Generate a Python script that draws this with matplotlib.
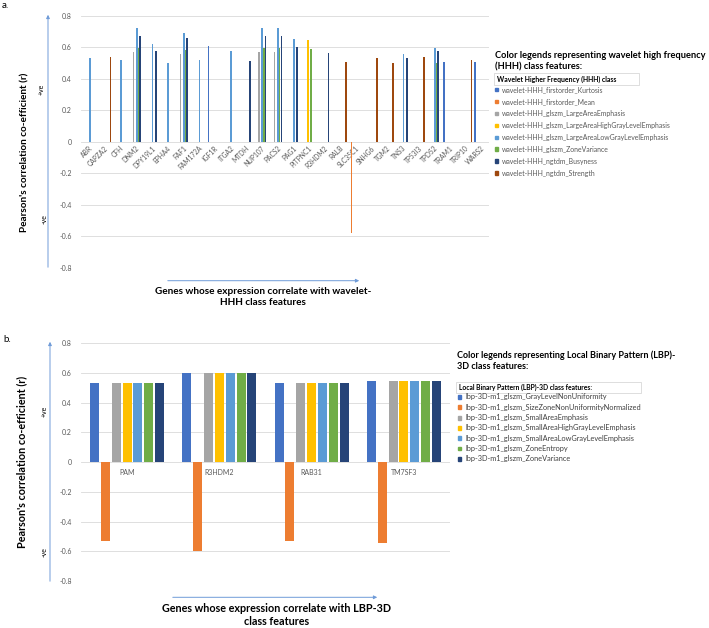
import matplotlib
matplotlib.use("Agg")
import matplotlib.pyplot as plt
import numpy as np
from matplotlib.patches import Patch, Rectangle, FancyArrowPatch

plt.rcParams['font.family'] = ['Lato', 'DejaVu Sans']

W, H = 709, 628
nan = np.nan

# ---------------- panel a data ----------------
genes_a = ["ABR", "CAPZA2", "CFH", "DNM2", "DPY19L1", "EPHA4", "FAF1", "FAM172A",
           "IGF1R", "ITGA2", "MTDH", "NUP107", "PACS2", "PAG1", "PITPNC1", "R3HDM2",
           "RALB", "SLC35C1", "SNHG6", "TGM2", "TNS3", "TP53I3", "TPD52", "TRAM1",
           "TRIP10", "WARS2"]
hhh_features = ["wavelet-HHH_firstorder_Kurtosis",
                "wavelet-HHH_firstorder_Mean",
                "wavelet-HHH_glszm_LargeAreaEmphasis",
                "wavelet-HHH_glszm_LargeAreaHighGrayLevelEmphasis",
                "wavelet-HHH_glszm_LargeAreaLowGrayLevelEmphasis",
                "wavelet-HHH_glszm_ZoneVariance",
                "wavelet-HHH_ngtdm_Busyness",
                "wavelet-HHH_ngtdm_Strength"]
# one value per gene, nan = no bar
kurtosis = [nan, nan, nan, nan, nan, nan, nan, nan, 0.61, nan, nan, nan, nan, nan, nan, nan, nan, nan, nan, nan, nan, nan, nan, 0.508, nan, 0.508]
mean_ = [nan, nan, nan, nan, nan, nan, nan, nan, nan, nan, nan, nan, nan, nan, nan, nan, nan, -0.58, nan, nan, nan, nan, nan, nan, nan, nan]
lae = [nan, nan, nan, 0.572, nan, nan, 0.557, nan, nan, nan, nan, 0.572, 0.572, nan, nan, nan, nan, nan, nan, nan, nan, nan, nan, nan, nan, nan]
lahgle = [nan, nan, nan, nan, nan, nan, nan, nan, nan, nan, nan, nan, nan, nan, 0.646, nan, nan, nan, nan, nan, nan, nan, nan, nan, nan, nan]
lalgle = [0.533, nan, 0.517, 0.72, 0.62, 0.498, 0.688, 0.517, nan, 0.575, nan, 0.72, 0.72, 0.652, nan, nan, nan, nan, nan, nan, 0.557, nan, 0.597, nan, nan, nan]
zone_var = [nan, nan, nan, 0.597, nan, nan, 0.582, nan, nan, nan, nan, 0.595, 0.595, nan, 0.59, nan, nan, nan, nan, nan, nan, nan, 0.498, nan, nan, nan]
busyness = [nan, nan, nan, 0.673, 0.576, nan, 0.656, nan, nan, nan, 0.513, 0.67, 0.67, 0.604, nan, 0.563, nan, nan, nan, nan, 0.534, nan, 0.578, nan, nan, nan]
strength = [nan, 0.536, nan, nan, nan, nan, nan, nan, nan, nan, nan, nan, nan, nan, nan, nan, 0.508, nan, 0.532, 0.50, nan, 0.54, nan, nan, 0.517, nan]
series_a = [kurtosis, mean_, lae, lahgle, lalgle, zone_var, busyness, strength]
colors_a = ['#4472C4', '#ED7D31', '#A5A5A5', '#FFC000', '#5B9BD5', '#70AD47', '#264478', '#9E480E']

# ---------------- panel b data ----------------
genes_b = ["PAM", "R3HDM2", "RAB31", "TM7SF3"]
lbp_features = ["lbp-3D-m1_glszm_GrayLevelNonUniformity",
                "lbp-3D-m1_glszm_SizeZoneNonUniformityNormalized",
                "lbp-3D-m1_glszm_SmallAreaEmphasis",
                "lbp-3D-m1_glszm_SmallAreaHighGrayLevelEmphasis",
                "lbp-3D-m1_glszm_SmallAreaLowGrayLevelEmphasis",
                "lbp-3D-m1_glszm_ZoneEntropy",
                "lbp-3D-m1_glszm_ZoneVariance"]
gray_nonunif = [0.535, 0.60, 0.535, 0.548]
sizezone_nonunif = [-0.53, -0.60, -0.532, -0.547]
small_area = [0.535, 0.60, 0.535, 0.548]
small_area_high = [0.535, 0.60, 0.535, 0.548]
small_area_low = [0.535, 0.60, 0.535, 0.548]
zone_entropy = [0.535, 0.60, 0.535, 0.548]
zone_variance = [0.535, 0.60, 0.535, 0.548]
series_b = [gray_nonunif, sizezone_nonunif, small_area, small_area_high,
            small_area_low, zone_entropy, zone_variance]
colors_b = colors_a[:7]

yticks = [-0.8, -0.6, -0.4, -0.2, 0, 0.2, 0.4, 0.6, 0.8]
tick_grey = '#595959'
arrow_col = '#6F9BD8'
tick_fs = 5.0

fig = plt.figure(figsize=(W / 100, H / 100), dpi=100)
renderer = fig.canvas.get_renderer()


def px_box(x0, y_top, x1, y_bot):
    return [x0 / W, 1 - y_bot / H, (x1 - x0) / W, (y_bot - y_top) / H]


def fit_size(s, target_px, weight='normal', size=10):
    # font size so that string s is target_px wide
    t = fig.text(0, 0, s, fontsize=size, fontweight=weight)
    w = t.get_window_extent(renderer).width
    t.remove()
    return size * target_px / w


def style_axes(ax):
    for s in ax.spines.values():
        s.set_visible(False)
    ax.spines['bottom'].set_position(('data', 0))
    ax.set_ylim(-0.8, 0.8)
    ax.set_yticks(yticks)
    ax.set_yticklabels([f"{v:g}" for v in yticks])
    ax.yaxis.grid(True, color='#D9D9D9', lw=0.6)
    ax.set_axisbelow(True)
    ax.tick_params(axis='y', length=0, pad=6.5, labelsize=tick_fs, labelcolor=tick_grey)
    ax.tick_params(axis='x', length=0, labelcolor=tick_grey)


def arrow(x0, y0, x1, y1):
    fig.add_artist(FancyArrowPatch(
        (x0 / W, 1 - y0 / H), (x1 / W, 1 - y1 / H), transform=fig.transFigure,
        arrowstyle='-|>', mutation_scale=5, lw=0.7, color=arrow_col))


# ---------------- panel a ----------------
ax_a = fig.add_axes(px_box(81, 15.7, 489, 267.7))
style_axes(ax_a)
x_a = np.arange(len(genes_a))
slot_a = 0.107
for k, (vals, col) in enumerate(zip(series_a, colors_a)):
    v = np.array(vals, dtype=float)
    m = ~np.isnan(v)
    ax_a.bar(x_a[m] + (k - 3.5) * slot_a, v[m], width=0.105, color=col, lw=0, zorder=3)
ax_a.set_xlim(-0.5, len(genes_a) - 0.5)
ax_a.set_xticks(x_a)
ax_a.set_xticklabels(genes_a, rotation=45, ha='right', va='top',
                     rotation_mode='anchor', fontsize=4.8)
ax_a.tick_params(axis='x', pad=2)

fig.text(2 / W, 1 - 6 / H, "a.", fontsize=7, va='center', ha='left')
ylab = "Pearson's correlation co-efficient (r)"
fig.text(25 / W, 1 - 152 / H, ylab, rotation=90,
         fontsize=fit_size(ylab, 159, 'bold'), fontweight='bold', ha='center', va='center')
fig.text(41 / W, 1 - 89 / H, "+ve", rotation=90, fontsize=5, ha='center', va='center')
fig.text(44 / W, 1 - 219 / H, "-ve", rotation=90, fontsize=5, ha='center', va='center')
arrow(48, 270, 48, 12)
arrow(165, 280.7, 362, 280.7)
xl1 = "Genes whose expression correlate with wavelet-"
fig.text(263 / W, 1 - 297 / H, xl1 + "\nHHH class features",
         fontsize=fit_size(xl1, 217, 'bold'), fontweight='bold', ha='center', va='center',
         linespacing=1.2)

tl1 = "Color legends representing wavelet high frequency"
fig.text(495 / W, 1 - 61 / H, tl1 + "\n(HHH) class features:",
         fontsize=fit_size(tl1, 212, 'bold'), fontweight='bold', ha='left', va='center',
         linespacing=1.3)
fig.add_artist(Rectangle((494 / W, 1 - 85 / H), 145 / W, 12 / H, transform=fig.transFigure,
                         facecolor='white', edgecolor='#D0D0D0', lw=0.5))
bh1 = "Wavelet Higher Frequency (HHH) class"
fig.text(497 / W, 1 - 79 / H, bh1, fontsize=fit_size(bh1, 121, 'bold'),
         fontweight='bold', ha='left', va='center')
leg_fs_a = fit_size(hhh_features[3], 169)
leg_a = fig.legend([Patch(color=c) for c in colors_a], hhh_features,
                   loc='upper left', bbox_to_anchor=(495 / W, 1 - 86 / H),
                   frameon=False, fontsize=leg_fs_a, handlelength=0.45, handleheight=0.45,
                   handletextpad=0.6, labelspacing=0.72, borderpad=0, borderaxespad=0)
for t in leg_a.get_texts():
    t.set_color(tick_grey)

# ---------------- panel b ----------------
ax_b = fig.add_axes(px_box(81, 343.3, 450, 581))
style_axes(ax_b)
x_b = np.arange(len(genes_b))
slot_b = 0.1174
for k, (vals, col) in enumerate(zip(series_b, colors_b)):
    ax_b.bar(x_b + (k - 3) * slot_b, vals, width=0.098, color=col, lw=0, zorder=3)
ax_b.set_xlim(-0.5, len(genes_b) - 0.5)
ax_b.set_xticks(x_b)
ax_b.set_xticklabels(genes_b, fontsize=tick_fs)
ax_b.tick_params(axis='x', pad=5)

fig.text(3 / W, 1 - 340 / H, "b.", fontsize=7, va='center', ha='left')
xl2 = "Genes whose expression correlate with LBP-3D"
xl2_fs = fit_size(xl2, 228, 'bold')
fig.text(22 / W, 1 - 462 / H, ylab, rotation=90,
         fontsize=xl2_fs, fontweight='bold', ha='center', va='center')
fig.text(44 / W, 1 - 411 / H, "+ve", rotation=90, fontsize=5, ha='center', va='center')
fig.text(44 / W, 1 - 552 / H, "-ve", rotation=90, fontsize=5, ha='center', va='center')
arrow(50, 584, 50, 339)
arrow(170, 597.3, 380, 597.3)
fig.text(277 / W, 1 - 615 / H, xl2 + "\nclass features",
         fontsize=xl2_fs, fontweight='bold', ha='center', va='center', linespacing=1.2)

fig.text(457 / W, 1 - 360.5 / H,
         "Color legends representing Local Binary Pattern (LBP)-\n3D class features:",
         fontsize=6.5, fontweight='bold', ha='left', va='center', linespacing=1.3)
fig.add_artist(Rectangle((456 / W, 1 - 393 / H), 185 / W, 11 / H, transform=fig.transFigure,
                         facecolor='white', edgecolor='#D0D0D0', lw=0.5))
fig.text(459 / W, 1 - 387.5 / H, "Local Binary Pattern (LBP)-3D class features:",
         fontsize=4.9, fontweight='bold', ha='left', va='center')
leg_fs_b = fit_size(lbp_features[1], 177)
leg_b = fig.legend([Patch(color=c) for c in colors_b], lbp_features,
                   loc='upper left', bbox_to_anchor=(457.5 / W, 1 - 393.5 / H),
                   frameon=False, fontsize=leg_fs_b, handlelength=0.45, handleheight=0.45,
                   handletextpad=0.6, labelspacing=0.45, borderpad=0, borderaxespad=0)
for t in leg_b.get_texts():
    t.set_color('#404040')

fig.savefig("out.png", dpi=100)
